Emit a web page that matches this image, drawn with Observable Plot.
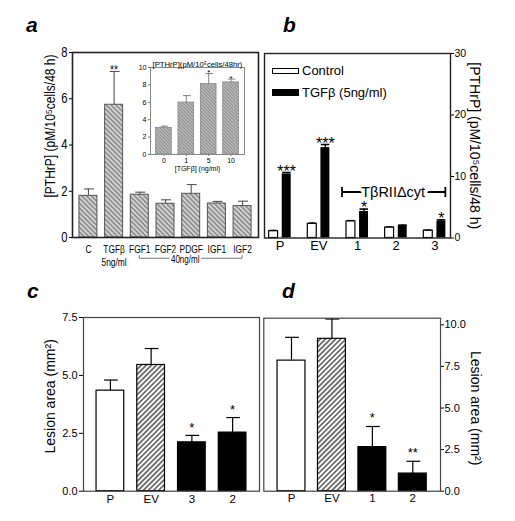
<!DOCTYPE html>
<html><head><meta charset="utf-8">
<script src="https://cdn.jsdelivr.net/npm/d3@7"></script>
<script src="https://cdn.jsdelivr.net/npm/@observablehq/plot@0.6"></script>
<style>
html,body{margin:0;padding:0;background:#fff;}
#fig{position:relative;width:515px;height:521px;overflow:hidden;background:#fff;}
.pan{position:absolute;}
.pan svg{overflow:visible;max-width:none;}
.plab{position:absolute;font:italic bold 21px "Liberation Sans",Arial,sans-serif;line-height:20px;}
.leg{position:absolute;font:13px "Liberation Sans",Arial,sans-serif;line-height:13px;display:flex;align-items:center;white-space:nowrap;}
.sw{display:inline-block;width:27px;box-sizing:border-box;border:1.2px solid #000;margin-right:3px;}
</style></head><body>
<svg width="0" height="0" style="position:absolute">
 <defs>
  <pattern id="hatchA" patternUnits="userSpaceOnUse" width="3.4" height="3.4" patternTransform="rotate(-45)">
   <rect width="3.4" height="3.4" fill="#d4d4d4"/>
   <line x1="1.7" y1="0" x2="1.7" y2="3.4" stroke="#6a6a6a" stroke-width="1.1"/>
  </pattern>
  <pattern id="hatchIn" patternUnits="userSpaceOnUse" width="2.4" height="2.4" patternTransform="rotate(-45)">
   <rect width="2.4" height="2.4" fill="#b8b8b8"/>
   <line x1="1.2" y1="0" x2="1.2" y2="2.4" stroke="#8c8c8c" stroke-width="0.9"/>
  </pattern>
  <pattern id="hatchEV" patternUnits="userSpaceOnUse" width="3.6" height="3.6" patternTransform="rotate(45)">
   <rect width="3.6" height="3.6" fill="#fff"/>
   <line x1="1.8" y1="0" x2="1.8" y2="3.6" stroke="#111" stroke-width="1.1"/>
  </pattern>
 </defs>
</svg>
<div id="fig"></div>
<script>
// ---------- data ----------
const aCats = ["C","TGFβ","FGF1","FGF2","PDGF","IGF1","IGF2"];
const aTicks = ["C","TGFβ\n5ng/ml","FGF1","FGF2","PDGF","IGF1","IGF2"];
const aMean = [1.80,5.74,1.85,1.46,1.89,1.47,1.36];
const aErr  = [2.10,7.18,1.96,1.63,2.29,1.56,1.57];
const aSig  = ["","**","","","","",""];
const aYTicks = [0,2,4,6,8];
const aBracketFrom = "FGF1", aBracketTo = "IGF2", aBracketText = "40ng/ml";

const inCats = ["0","1","5","10"];
const inMean = [3.04,5.97,8.10,8.29];
const inErr  = [3.26,6.77,9.30,8.67];
const inSig  = ["","","*","*"];
const inYTicks = [0,2,4,6,8,10];

const bGroups = ["P","EV","1","2","3"];
const bCtrl    = [1.10,2.30,2.70,1.70,1.20];
const bCtrlErr = [1.25,2.45,2.85,1.80,1.30];
const bTgf     = [10.40,14.70,4.30,2.00,2.75];
const bTgfErr  = [10.65,15.20,4.70,2.10,2.95];
const bSig     = ["***","***","*","","*"];
const bYTicks = [0,10,20,30];
const bBracketFrom = "1", bBracketMid = "2", bBracketTo = "3", bBracketText = "TβRIIΔcyt", bBracketValue = 7.4;

const cCats = ["P","EV","3","2"];
const cMean = [4.34,5.45,2.11,2.53];
const cErr  = [4.80,6.16,2.41,3.18];
const cSig  = ["","","*","*"];
const cYTicks = [0,2.5,5,7.5];

const dCats = ["P","EV","1","2"];
const dMean = [7.85,9.16,2.65,1.06];
const dErr  = [9.25,10.35,3.89,1.80];
const dSig  = ["","","*","**"];
const dYTicks = [0,2.5,5,7.5,10];

// ---------- helpers ----------
const SANS = "Liberation Sans, Arial, sans-serif";
const lesionFill = {P: "white", EV: "url(#hatchEV)"};
const fig = document.getElementById("fig");
function place(node, left, top, w, h) {
  const d = document.createElement("div");
  d.className = "pan";
  d.style.left = left + "px"; d.style.top = top + "px";
  d.style.width = w + "px"; d.style.height = h + "px";
  d.appendChild(node); fig.appendChild(d);
  return node;
}
function bandOf(plot, cfg) {
  const s = plot.scale("x");
  return d3.scaleBand(s.domain, s.range).paddingInner(cfg.paddingInner).paddingOuter(cfg.paddingOuter).align(0.5);
}
function linOf(plot) {
  const s = plot.scale("y");
  return d3.scaleLinear(s.domain, s.range);
}
// narrow the glyphs of a panel's texts about their anchor (the original uses a condensed face)
function condense(svg, factor) {
  d3.select(svg).selectAll("text").each(function () {
    const x0 = parseFloat(this.getAttribute("x")) || 0;
    const t = this.getAttribute("transform") || "";
    this.setAttribute("transform", `${t} translate(${x0},0) scale(${factor},1) translate(${-x0},0)`);
  });
}
const rows = (cats, extra) => cats.map((c, i) => Object.fromEntries([["c", c], ...Object.entries(extra).map(([k, v]) => [k, v[i]])]));

// ---------- panel a ----------
const aData = rows(aCats, {m: aMean, e: aErr, s: aSig});
const aX = {domain: aCats, paddingInner: 0.3, paddingOuter: 0.27, round: false};
const pa = Plot.plot({
  width: 260, height: 240, marginLeft: 72, marginRight: 2, marginTop: 22, marginBottom: 33,
  style: {fontFamily: SANS, background: "transparent", overflow: "visible"},
  x: aX, y: {domain: [0, 8]},
  marks: [
    Plot.barY(aData, {x: "c", y: "m", fill: "url(#hatchA)", stroke: "#555", strokeWidth: 1}),
    Plot.ruleX(aData, {x: "c", y1: "m", y2: "e", stroke: "#555", strokeWidth: 1.1}),
    Plot.tickY(aData, {x: "c", y: "e", stroke: "#555", strokeWidth: 1.1, insetLeft: 5, insetRight: 3}),
    Plot.text(aData, {x: "c", y: "e", text: "s", dy: -2, fontSize: 13}),
    Plot.axisY({ticks: aYTicks, tickSize: 3, tickPadding: 2, fontSize: 14, label: null}),
    Plot.axisX({tickSize: 0, tickPadding: 6, fontSize: 10.5, lineHeight: 1.25, label: null,
      tickFormat: d => aTicks[aCats.indexOf(d)]}),
    Plot.frame({stroke: "#222", strokeWidth: 1.6}),
    Plot.text(["[PTHrP] (pM/10⁵cells/48 h)"], {frameAnchor: "left", textAnchor: "middle", rotate: -90, dx: -22, dy: -19, fontSize: 15}),
    Plot.text([aBracketText], {x: () => "PDGF", y: () => -0.97, dx: -6, fontSize: 10, stroke: "white", strokeWidth: 5, paintOrder: "stroke", fill: "black"})
  ]
});
place(pa, 0, 30, 260, 240);
condense(pa, 0.8);
{
  const xb = bandOf(pa, aX), y = linOf(pa), bw = xb.bandwidth();
  const x1 = xb(aBracketFrom) + bw / 2, x2 = xb(aBracketTo) + bw / 2, yy = y(-0.92);
  const g = d3.select(pa).insert("g", "g").attr("stroke", "#777").attr("stroke-width", 1).attr("fill", "none");
  g.append("path").attr("d", `M${x1},${yy - 3}V${yy}H${x2}V${yy - 3}`);
}

// ---------- inset ----------
const inData = rows(inCats, {m: inMean, e: inErr, s: inSig});
const pin = Plot.plot({
  width: 120, height: 125, marginLeft: 20, marginRight: 6, marginTop: 15, marginBottom: 23,
  style: {fontFamily: SANS, background: "transparent", overflow: "visible"},
  x: {domain: inCats, paddingInner: 0.3, paddingOuter: 0.25, round: false}, y: {domain: [0, 10]},
  marks: [
    Plot.barY(inData, {x: "c", y: "m", fill: "url(#hatchIn)", stroke: "#888", strokeWidth: 0.8}),
    Plot.ruleX(inData, {x: "c", y1: "m", y2: "e", stroke: "#777", strokeWidth: 0.9}),
    Plot.tickY(inData, {x: "c", y: "e", stroke: "#777", strokeWidth: 0.9, insetLeft: 5, insetRight: 3}),
    Plot.text(inData, {x: "c", y: "e", text: "s", dy: -1, fontSize: 8}),
    Plot.axisY({ticks: inYTicks, tickSize: 2, tickPadding: 2, fontSize: 7, label: null, stroke: "#777"}),
    Plot.axisX({tickSize: 2, tickPadding: 1.5, fontSize: 7, label: null, stroke: "#777"}),
    Plot.frame({stroke: "#888", strokeWidth: 1}),
    Plot.text(["[PTHrP](pM/10⁵cells/48hr)"], {frameAnchor: "top-left", textAnchor: "start", dx: 2, dy: -6, fontSize: 7.7}),
    Plot.text(["[TGFβ] (ng/ml)"], {frameAnchor: "bottom", textAnchor: "middle", dy: 16, fontSize: 7})
  ]
});
place(pin, 130, 52, 120, 125);

// ---------- panel b ----------
const bData = rows(bGroups, {cm: bCtrl, ce: bCtrlErr, tm: bTgf, te: bTgfErr, s: bSig});
const bX = {domain: bGroups, paddingInner: 0.43, paddingOuter: 0.12, round: false};
const pb = Plot.plot({
  width: 255, height: 240, marginLeft: 4, marginRight: 65, marginTop: 23, marginBottom: 32.5,
  style: {fontFamily: SANS, background: "transparent", overflow: "visible"},
  x: bX, y: {domain: [0, 30]},
  marks: [
    Plot.barY(bData, {x: "c", y: "cm", fill: "white", stroke: "black", strokeWidth: 1.2, insetRight: 13.1}),
    Plot.barY(bData, {x: "c", y: "tm", fill: "black", insetLeft: 13.1}),
    Plot.ruleX(bData, {x: "c", y1: "cm", y2: "ce", dx: -6.5, strokeWidth: 1.2}),
    Plot.tickY(bData, {x: "c", y: "ce", insetLeft: 1, insetRight: 14, strokeWidth: 1.2}),
    Plot.ruleX(bData, {x: "c", y1: "tm", y2: "te", dx: 6.5, strokeWidth: 1.4}),
    Plot.tickY(bData, {x: "c", y: "te", insetLeft: 13.5, insetRight: 0, strokeWidth: 1.6}),
    Plot.text(bData, {x: "c", y: "te", text: "s", dx: 6.5, dy: -1, fontSize: 16}),
    Plot.axisY({anchor: "right", ticks: bYTicks, tickSize: 3, tickPadding: 1, fontSize: 10.5, label: null}),
    Plot.axisX({tickSize: 0, tickPadding: 3, fontSize: 13, label: null}),
    Plot.frame({stroke: "#222", strokeWidth: 1.4}),
    Plot.text(["[PTHrP] (pM/10⁵cells/48 h)"], {frameAnchor: "right", textAnchor: "middle", rotate: 90, dx: 24, fontSize: 14}),
    Plot.text([bBracketText], {x: () => bBracketMid, y: () => bBracketValue, dx: -3, fontSize: 14.5, stroke: "white", strokeWidth: 7, paintOrder: "stroke", fill: "black"})
  ]
});
place(pb, 260, 30, 255, 240);
{
  const xb = bandOf(pb, bX), y = linOf(pb), bw = xb.bandwidth();
  const x1 = xb(bBracketFrom) - 4, x2 = xb(bBracketTo) + bw, yy = y(bBracketValue);
  const g = d3.select(pb).insert("g", "g").attr("stroke", "black").attr("stroke-width", 1.8).attr("fill", "none");
  g.append("path").attr("d", `M${x1},${yy}H${x2}M${x1},${yy - 5}V${yy + 5}M${x2},${yy - 5}V${yy + 5}`);
}
// legend (panel b)
function legRow(top, fill, h, text) {
  const d = document.createElement("div");
  d.className = "leg"; d.style.left = "272px"; d.style.top = top + "px"; d.style.height = "13px";
  const sw = document.createElement("span"); sw.className = "sw"; sw.style.height = h + "px"; sw.style.background = fill;
  d.appendChild(sw); d.appendChild(document.createTextNode(text)); fig.appendChild(d);
}
legRow(64, "white", 6, "Control");
legRow(86, "black", 7, "TGFβ (5ng/ml)");

// ---------- panel c ----------
const cData = rows(cCats, {m: cMean, e: cErr, s: cSig});
const pc = Plot.plot({
  width: 262, height: 231, marginLeft: 83, marginRight: 3, marginTop: 27, marginBottom: 30.3,
  style: {fontFamily: SANS, background: "transparent", overflow: "visible"},
  x: {domain: cCats, paddingInner: 0.32, paddingOuter: 0.32, round: false}, y: {domain: [0, 7.5]},
  color: {type: "identity"},
  marks: [
    Plot.barY(cData, {x: "c", y: "m", fill: d => lesionFill[d.c] ?? "black", stroke: "black", strokeWidth: 1.2}),
    Plot.ruleX(cData, {x: "c", y1: "m", y2: "e", strokeWidth: 1.2}),
    Plot.tickY(cData, {x: "c", y: "e", strokeWidth: 1.2, insetLeft: 8, insetRight: 6}),
    Plot.text(cData, {x: "c", y: "e", text: "s", dy: -8, fontSize: 13}),
    Plot.axisY({ticks: cYTicks, tickFormat: d3.format(".1f"), tickSize: 4, tickPadding: 2, fontSize: 11, label: null}),
    Plot.axisX({tickSize: 0, tickPadding: 3.5, fontSize: 11.5, label: null}),
    Plot.frame({stroke: "#444", strokeWidth: 1.2}),
    Plot.text(["Lesion area (mm²)"], {frameAnchor: "left", textAnchor: "middle", rotate: -90, dx: -33, dy: -8, fontSize: 14})
  ]
});
place(pc, 0, 290, 262, 231);

// ---------- panel d ----------
const dData = rows(dCats, {m: dMean, e: dErr, s: dSig});
const pd = Plot.plot({
  width: 255, height: 231, marginLeft: 3.3, marginRight: 75, marginTop: 27.7, marginBottom: 30.3,
  style: {fontFamily: SANS, background: "transparent", overflow: "visible"},
  x: {domain: dCats, paddingInner: 0.31, paddingOuter: 0.34, round: false}, y: {domain: [0, 10.4]},
  color: {type: "identity"},
  marks: [
    Plot.barY(dData, {x: "c", y: "m", fill: d => lesionFill[d.c] ?? "black", stroke: "black", strokeWidth: 1.2}),
    Plot.ruleX(dData, {x: "c", y1: "m", y2: "e", strokeWidth: 1.2}),
    Plot.tickY(dData, {x: "c", y: "e", strokeWidth: 1.2, insetLeft: 8, insetRight: 6}),
    Plot.text(dData, {x: "c", y: "e", text: "s", dy: -8.5, fontSize: 13}),
    Plot.axisY({anchor: "right", ticks: dYTicks, tickFormat: d3.format(".1f"), tickSize: 3, tickPadding: 1, fontSize: 11, label: null}),
    Plot.axisX({tickSize: 0, tickPadding: 3, fontSize: 11.5, label: null}),
    Plot.frame({stroke: "#444", strokeWidth: 1.2}),
    Plot.text(["Lesion area (mm²)"], {frameAnchor: "right", textAnchor: "middle", rotate: 90, dx: 35, dy: 3.5, fontSize: 14})
  ]
});
place(pd, 260, 290, 255, 231);

// ---------- panel letters ----------
[["a", 26, 15], ["b", 283, 15], ["c", 27, 281], ["d", 282, 281]].forEach(([t, l, tp]) => {
  const d = document.createElement("div"); d.className = "plab";
  d.style.left = l + "px"; d.style.top = tp + "px"; d.textContent = t; fig.appendChild(d);
});
</script>
</body></html>
